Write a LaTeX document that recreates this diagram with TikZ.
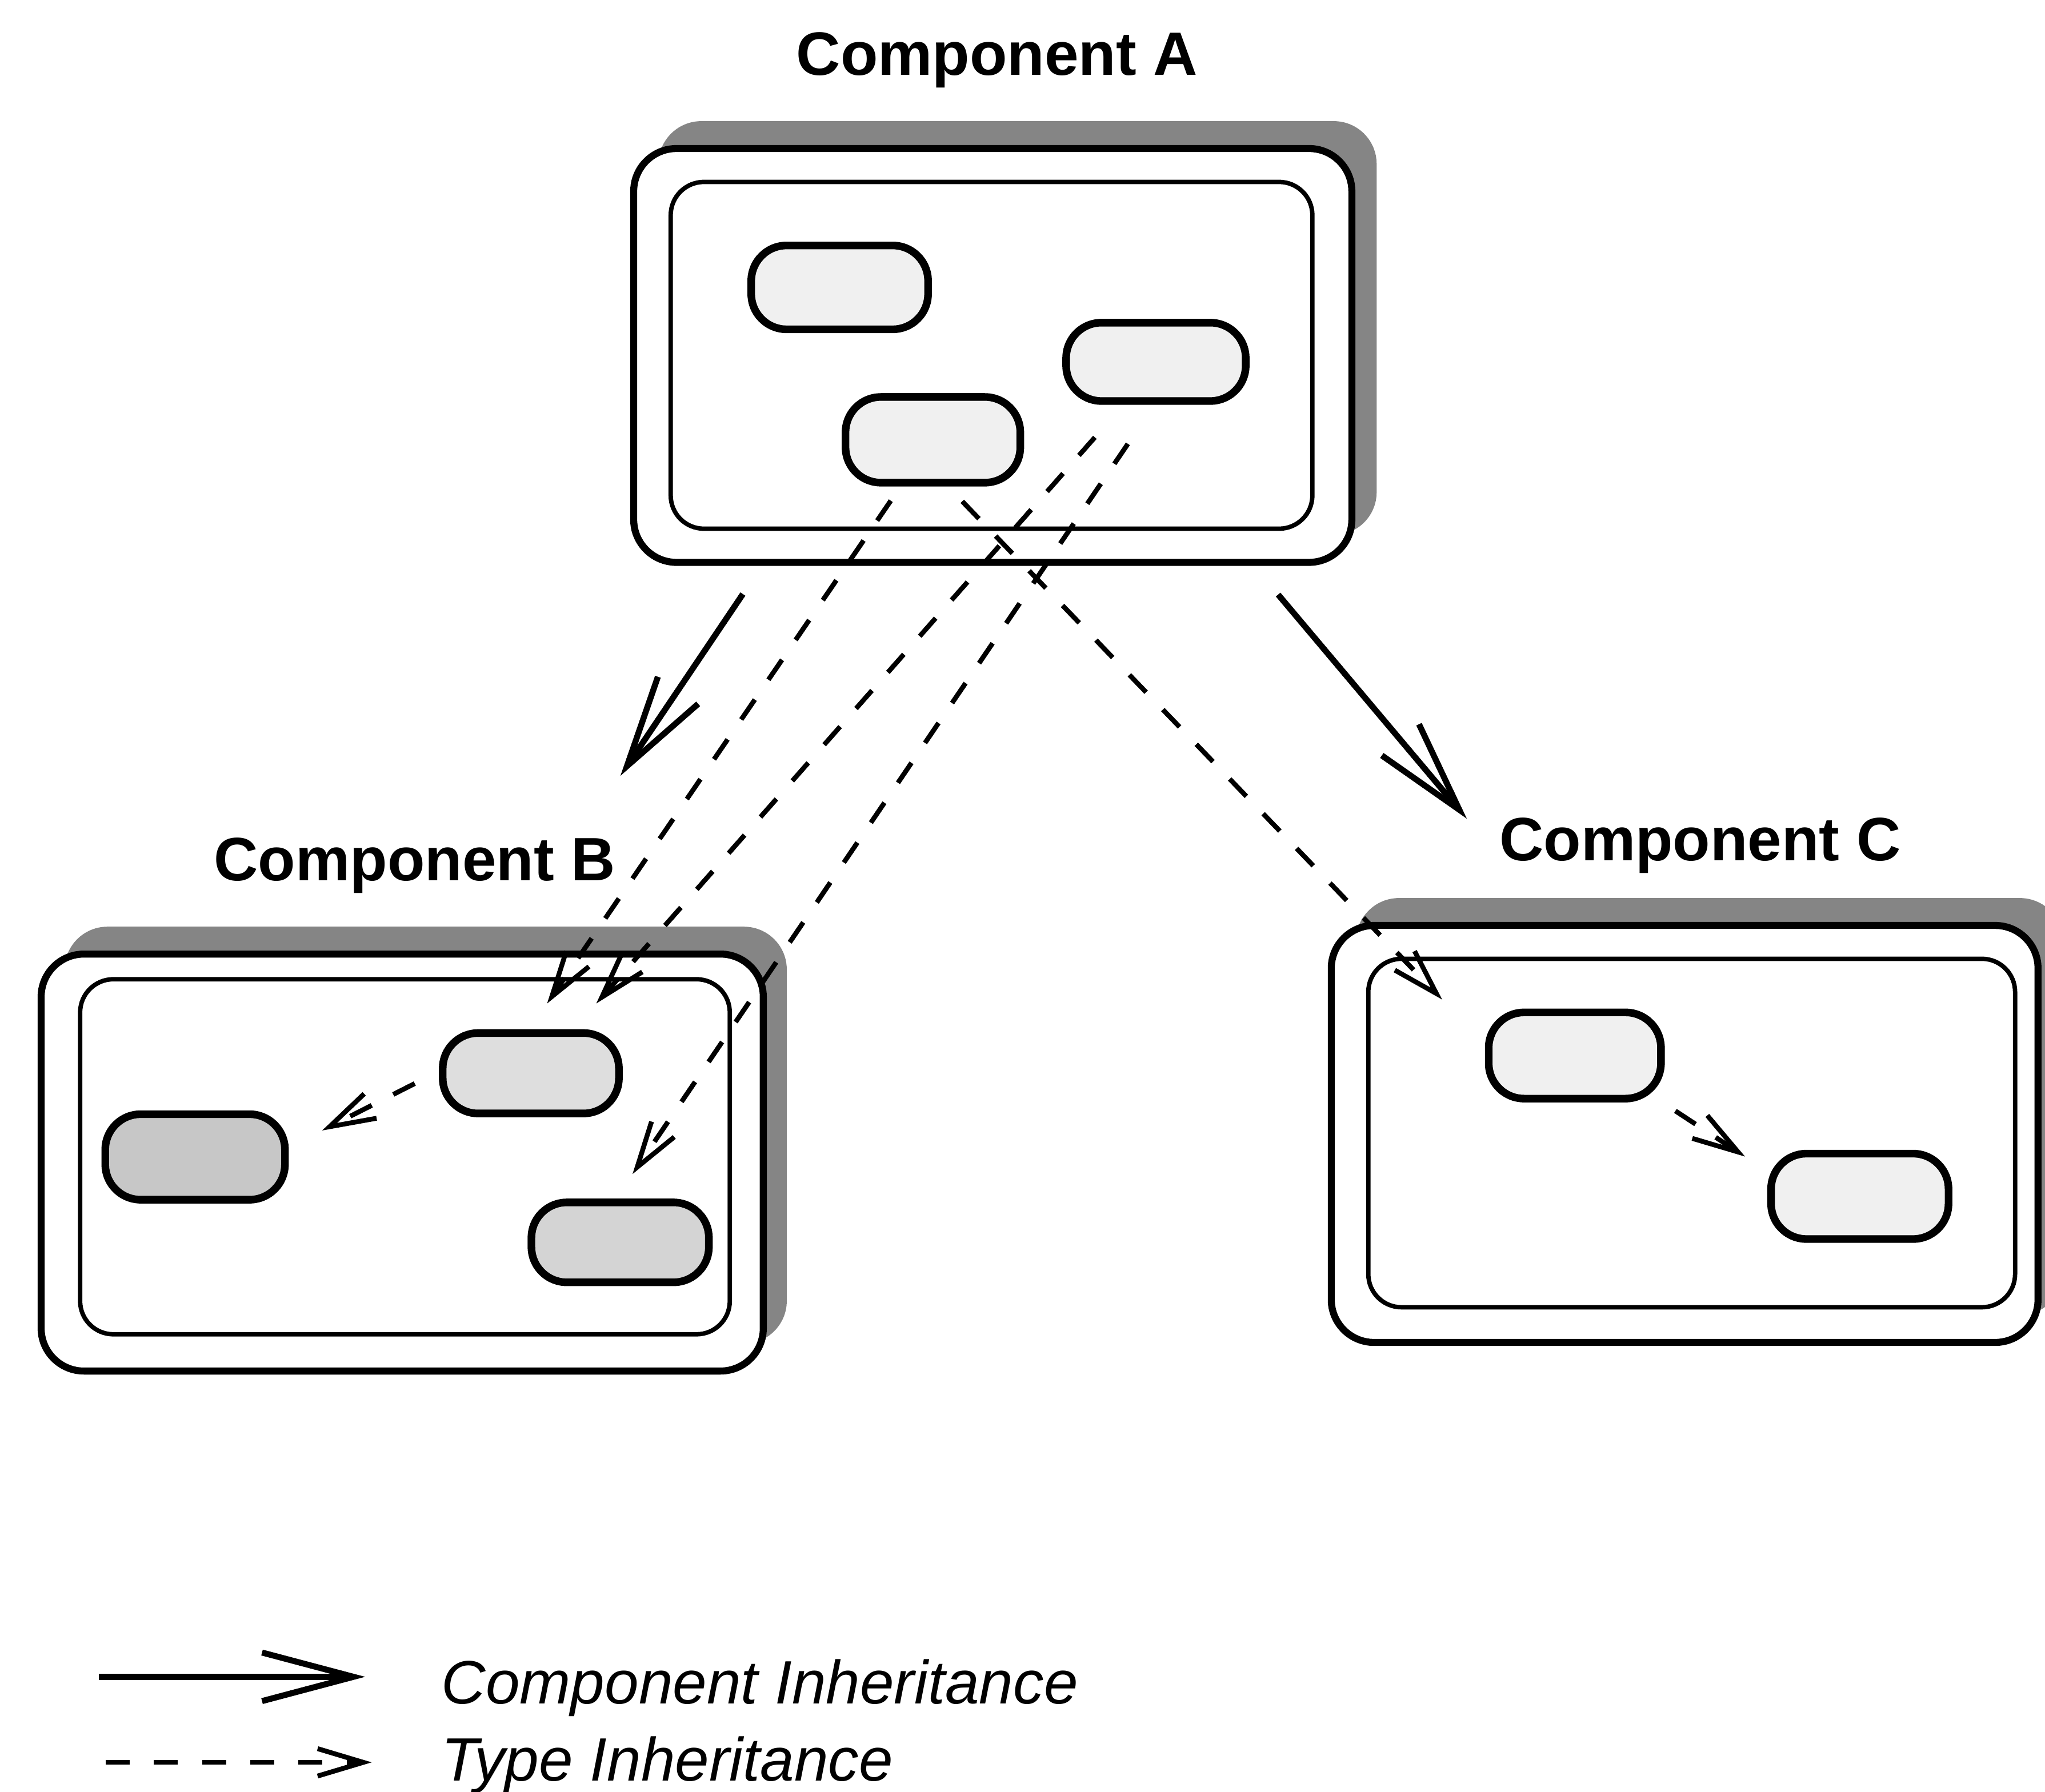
\documentclass[tikz,border=0pt]{standalone}
\usepackage{fontspec}
\setmainfont{Liberation Sans}
\usetikzlibrary{arrows.meta,calc}
\begin{document}
\begin{tikzpicture}[x=0.022825cm, y=-0.022825cm,
  every node/.style={inner sep=0pt, outer sep=0pt},
  shadowbox/.style={draw=none, fill=black!48, rounded corners=0.75cm},
  outerbox/.style={draw, line width=3.5pt, fill=white, rounded corners=0.75cm},
  innerbox/.style={draw, line width=2.2pt, rounded corners=0.58cm},
  oval/.style={draw, line width=3.8pt, rounded corners=0.62cm},
  compinh/.style={line width=3pt, -{Straight Barb[length=1.6cm, width=0.85cm]}},
  typeinh/.style={line width=2.4pt, dash pattern=on 12pt off 12pt, -{Straight Barb[length=0.8cm, width=0.48cm]}},
  title/.style={font=\fontsize{30.5}{36}\selectfont\bfseries, anchor=base},
  legendtext/.style={font=\fontsize{30.5}{36}\selectfont\itshape, anchor=base west}]
\useasboundingbox (0,0) rectangle (1568,1374);
\clip (0,0) rectangle (1568,1374);

% ---------- Component A ----------
\node[title] (tA) at (764.5,57.7) {Component A};
\node[shadowbox, minimum width=12.57cm, minimum height=7.245cm] (Ash) at (780.2,251.6) {};
\node[outerbox, minimum width=12.57cm, minimum height=7.245cm] (Aout) at (761.2,272.6) {};
\node[innerbox, minimum width=11.23cm, minimum height=6.07cm] (Ain) at (760.25,272.5) {};
\node[oval, fill=black!6, minimum width=3.095cm, minimum height=1.468cm] (a1) at (643.8,220.4) {};
\node[oval, fill=black!6, minimum width=3.143cm, minimum height=1.372cm] (a2) at (886.3,277.5) {};
\node[oval, fill=black!6, minimum width=3.059cm, minimum height=1.50cm] (a3) at (715.3,337.3) {};

% ---------- Component B ----------
\node[title] (tB) at (318,675.4) {Component B};
\node[shadowbox, minimum width=12.64cm, minimum height=7.30cm] (Bsh) at (326.4,870.6) {};
\node[outerbox, minimum width=12.64cm, minimum height=7.30cm] (Bout) at (308.4,891.6) {};
\node[innerbox, minimum width=11.37cm, minimum height=6.215cm] (Bin) at (310.5,887.15) {};
\node[oval, fill=black!13, minimum width=3.084cm, minimum height=1.408cm] (b1) at (407,823.1) {};
\node[oval, fill=black!22, minimum width=3.145cm, minimum height=1.497cm] (b2) at (149.6,887.3) {};
\node[oval, fill=black!17, minimum width=3.106cm, minimum height=1.399cm] (b3) at (475.5,952.8) {};

% ---------- Component C ----------
\node[title] (tC) at (1303.6,660.1) {Component C};
\node[shadowbox, minimum width=12.37cm, minimum height=7.30cm] (Csh) at (1310.7,848.65) {};
\node[outerbox, minimum width=12.37cm, minimum height=7.30cm] (Cout) at (1291.7,869.65) {};
\node[innerbox, minimum width=11.32cm, minimum height=6.10cm] (Cin) at (1297.1,868.95) {};
\node[oval, fill=black!6, minimum width=3.015cm, minimum height=1.509cm] (c1) at (1207.5,809.5) {};
\node[oval, fill=black!6, minimum width=3.106cm, minimum height=1.495cm] (c2) at (1426,917.5) {};

% ---------- connector end points ----------
\coordinate (s1) at (683,384);      \coordinate (e1) at (419.5,769.6);
\coordinate (s2) at (839.5,335.4);  \coordinate (e2) at (457.2,769.6);
\coordinate (s3) at (864.8,340.4);  \coordinate (e3) at (485,900.4);
\coordinate (s4) at (737.8,384.5);  \coordinate (e4) at (1105.8,766.6);
\coordinate (s5) at (318,831);      \coordinate (e5) at (247,867);
\coordinate (s6) at (1284.6,852);   \coordinate (e6) at (1338,887);
\coordinate (s7) at (569.6,455.6);  \coordinate (e7) at (475.7,595);
\coordinate (s8) at (980,456);      \coordinate (e8) at (1124.7,627.9);

% ---------- type inheritance ----------
\draw[typeinh] (s1) -- (e1);
\draw[typeinh] (s2) -- (e2);
\draw[typeinh] (s3) -- (e3);
\draw[typeinh] (s4) -- (e4);
\draw[typeinh] (s5) -- (e5);
\draw[typeinh] (s6) -- (e6);

% ---------- component inheritance ----------
\draw[compinh] (s7) -- (e7);
\draw[compinh] (s8) -- (e8);

% ---------- legend ----------
\coordinate (l1s) at (75.7,1286);  \coordinate (l1e) at (280,1286);
\coordinate (l2s) at (81,1351.6);  \coordinate (l2e) at (285,1351.6);
\draw[compinh] (l1s) -- (l1e);
\draw[typeinh] (l2s) -- (l2e);
\node[legendtext] (lt1) at (338.5,1306.8) {Component Inheritance};
\node[legendtext] (lt2) at (338.5,1366) {Type Inheritance};
\end{tikzpicture}
\end{document}
